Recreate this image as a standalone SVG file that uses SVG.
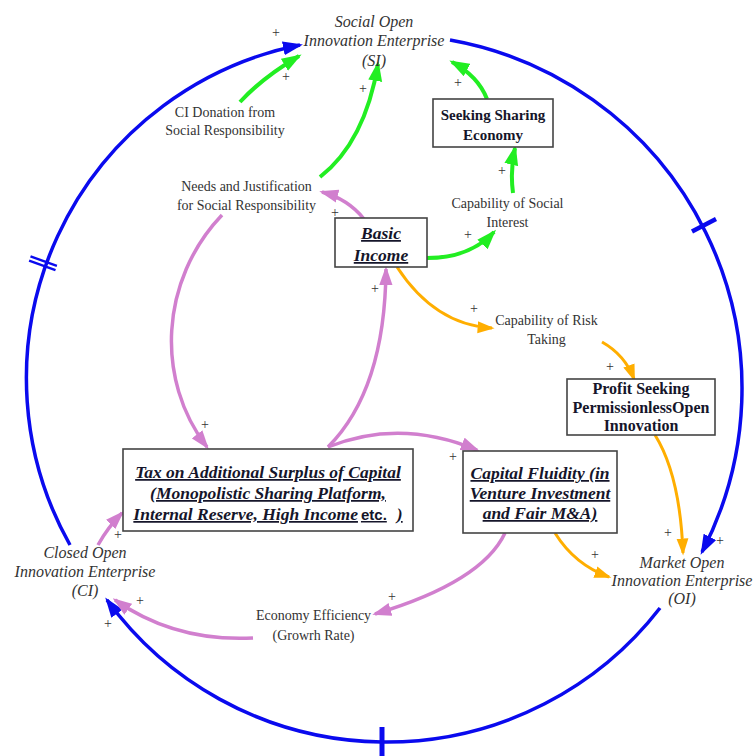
<svg xmlns="http://www.w3.org/2000/svg" width="756" height="756" viewBox="0 0 756 756">
<style>
.bg{fill:#fff}
.lbl{font-family:"Liberation Serif","Times New Roman",serif;font-size:14px;fill:#333;text-anchor:middle}
.ital{font-family:"Liberation Serif","Times New Roman",serif;font-size:16px;font-style:italic;fill:#333;text-anchor:middle}
.bx{fill:#fff;stroke:#444;stroke-width:1.6}
.bt{font-family:"Liberation Serif","Times New Roman",serif;font-size:15px;font-weight:bold;fill:#15152a;text-anchor:middle}
.bt16{font-size:16px}
.bi{font-family:"Liberation Serif","Times New Roman",serif;font-size:17.5px;font-weight:bold;font-style:italic;fill:#15152a;text-anchor:middle;text-decoration:underline}
.pl{font-family:"Liberation Serif","Times New Roman",serif;font-size:14px;fill:#333;text-anchor:middle}
.blue{fill:none;stroke:#0a0aee;stroke-width:3.5}
.green{fill:none;stroke:#22ee22;stroke-width:4}
.pink{fill:none;stroke:#d17fce;stroke-width:3.5}
.orange{fill:none;stroke:#ffae00;stroke-width:3}
</style>
<defs>
<marker id="mb" viewBox="0 0 20 14" refX="17" refY="7" markerWidth="20" markerHeight="14" markerUnits="userSpaceOnUse" orient="auto"><path d="M0,0 L20,7 L0,14 Z" fill="#0a0aee"/></marker>
<marker id="mg" viewBox="0 0 20 14" refX="17" refY="7" markerWidth="20" markerHeight="15" markerUnits="userSpaceOnUse" orient="auto"><path d="M0,0 L20,7 L0,14 Z" fill="#22ee22"/></marker>
<marker id="mp" viewBox="0 0 20 14" refX="17" refY="7" markerWidth="19" markerHeight="14" markerUnits="userSpaceOnUse" orient="auto"><path d="M0,0 L20,7 L0,14 Z" fill="#d17fce"/></marker>
<marker id="mo" viewBox="0 0 20 14" refX="17" refY="7" markerWidth="17" markerHeight="13" markerUnits="userSpaceOnUse" orient="auto"><path d="M0,0 L20,7 L0,14 Z" fill="#ffae00"/></marker>
</defs>
<rect class="bg" x="0" y="0" width="756" height="756"/>

<g id="connectors">
  <!-- blue outer loop -->
  <path class="blue" d="M70,545 A340,340 0 0 1 300,45" marker-end="url(#mb)"/>
  <path class="blue" d="M450,40 A354,354 0 0 1 702,552" marker-end="url(#mb)"/>
  <path class="blue" d="M660,608 A346,346 0 0 1 107,600" marker-end="url(#mb)"/>
  <!-- delay marks -->
  <line x1="30.5" y1="256.3" x2="56.9" y2="265.9" stroke="#0a0aee" stroke-width="2.4"/>
  <line x1="29.1" y1="260.6" x2="55.5" y2="270.2" stroke="#0a0aee" stroke-width="2.4"/>
  <line x1="692" y1="231.5" x2="716" y2="219" stroke="#0a0aee" stroke-width="4.5"/>
  <line x1="382" y1="727" x2="382" y2="756" stroke="#0a0aee" stroke-width="5"/>
  <!-- green -->
  <path class="green" d="M240,102 Q262,78 299,56" marker-end="url(#mg)"/>
  <path class="green" d="M320,177 Q365,142 378,64" marker-end="url(#mg)"/>
  <path class="green" d="M487,99 Q478,76 452,62" marker-end="url(#mg)"/>
  <path class="green" d="M513,193 Q510,170 515,148" marker-end="url(#mg)"/>
  <path class="green" d="M427,258 Q470,258 494,232" marker-end="url(#mg)"/>
  <!-- pink -->
  <path class="pink" d="M364,219 Q348,199 322,192" marker-end="url(#mp)"/>
  <path class="pink" d="M222,215 C160,280 155,380 207,447" marker-end="url(#mp)"/>
  <path class="pink" d="M328,447 Q385,390 386,269" marker-end="url(#mp)"/>
  <path class="pink" d="M328,447 Q400,418 477,450" marker-end="url(#mp)"/>
  <path class="pink" d="M505,533 Q482,582 375,614" marker-end="url(#mp)"/>
  <path class="pink" d="M253,638 Q175,642 115,600" marker-end="url(#mp)"/>
  <path class="pink" d="M98,545 Q108,527 122,513" marker-end="url(#mp)"/>
  <!-- orange -->
  <path class="orange" d="M397,267 Q435,325 492,328" marker-end="url(#mo)"/>
  <path class="orange" d="M602,342 Q625,355 634,379" marker-end="url(#mo)"/>
  <path class="orange" d="M655,435 Q680,475 683,553" marker-end="url(#mo)"/>
  <path class="orange" d="M555,533 Q575,565 609,577" marker-end="url(#mo)"/>
  <!-- polarity signs -->
  <g class="pl">
    <text x="276" y="36.5">+</text>
    <text x="286" y="80.5">+</text>
    <text x="363" y="92.5">+</text>
    <text x="458" y="86.5">+</text>
    <text x="502" y="174.5">+</text>
    <text x="468" y="238.5">+</text>
    <text x="335" y="216.5">+</text>
    <text x="205" y="428.5">+</text>
    <text x="375" y="292.5">+</text>
    <text x="453" y="460.5">+</text>
    <text x="392" y="600.5">+</text>
    <text x="140" y="604.5">+</text>
    <text x="118" y="538.5">+</text>
    <text x="474" y="312.5">+</text>
    <text x="610" y="370.5">+</text>
    <text x="668" y="536.5">+</text>
    <text x="595" y="558.5">+</text>
    <text x="720" y="544.5">+</text>
    <text x="108" y="627.5">+</text>
  </g>
</g>

<g id="SI">
  <text class="ital" x="374" y="26.5">Social Open</text>
  <text class="ital" x="374" y="45.5">Innovation Enterprise</text>
  <text class="ital" x="374" y="65.5">(SI)</text>
</g>
<g id="CI">
  <text class="ital" x="85" y="557.5">Closed Open</text>
  <text class="ital" x="85" y="576.5">Innovation Enterprise</text>
  <text class="ital" x="85" y="595.5">(CI)</text>
</g>
<g id="OI">
  <text class="ital" x="682" y="567.5">Market Open</text>
  <text class="ital" x="682" y="585.5">Innovation Enterprise</text>
  <text class="ital" x="682" y="603.5">(OI)</text>
</g>
<g id="CIDonation">
  <text class="lbl" x="225" y="117">CI Donation from</text>
  <text class="lbl" x="225" y="135">Social Responsibility</text>
</g>
<g id="Needs">
  <text class="lbl" x="246.5" y="191">Needs and Justification</text>
  <text class="lbl" x="246.5" y="210">for Social Responsibility</text>
</g>
<g id="SocialInterest">
  <text class="lbl" x="507.5" y="208">Capability of Social</text>
  <text class="lbl" x="507.5" y="227">Interest</text>
</g>
<g id="RiskTaking">
  <text class="lbl" x="546.5" y="325">Capability of Risk</text>
  <text class="lbl" x="546.5" y="344">Taking</text>
</g>
<g id="Economy">
  <text class="lbl" x="313.5" y="620">Economy Efficiency</text>
  <text class="lbl" x="313.5" y="640">(Growrh Rate)</text>
</g>
<g id="SeekingSharing">
  <rect class="bx" x="433" y="99" width="120" height="48"/>
  <text class="bt" x="493" y="120">Seeking Sharing</text>
  <text class="bt" x="493" y="140">Economy</text>
</g>
<g id="BasicIncome">
  <rect class="bx" x="335" y="218" width="92" height="49"/>
  <text class="bi" x="381" y="239">Basic</text>
  <text class="bi" x="381" y="261">Income</text>
</g>
<g id="ProfitSeeking">
  <rect class="bx" x="567" y="379" width="148" height="56"/>
  <text class="bt bt16" x="641" y="394">Profit Seeking</text>
  <text class="bt bt16" x="641" y="413">PermissionlessOpen</text>
  <text class="bt bt16" x="641" y="431">Innovation</text>
</g>
<g id="Tax">
  <rect class="bx" x="123" y="449" width="290" height="82"/>
  <text class="bi" x="268" y="478">Tax on Additional Surplus of Capital</text>
  <text class="bi" x="268" y="499">(Monopolistic Sharing Platform,</text>
  <text class="bi" x="268" y="520">Internal Reserve, High Income<tspan font-family="Liberation Sans, Arial, sans-serif" font-style="normal" font-size="15" dx="3">etc.</tspan><tspan dx="10">)</tspan></text>
</g>
<g id="CapitalFluidity">
  <rect class="bx" x="463" y="451" width="154" height="82"/>
  <text class="bi" x="540" y="479">Capital Fluidity (in</text>
  <text class="bi" x="540" y="499">Venture Investment</text>
  <text class="bi" x="540" y="519">and Fair M&amp;A)</text>
</g>
</svg>
